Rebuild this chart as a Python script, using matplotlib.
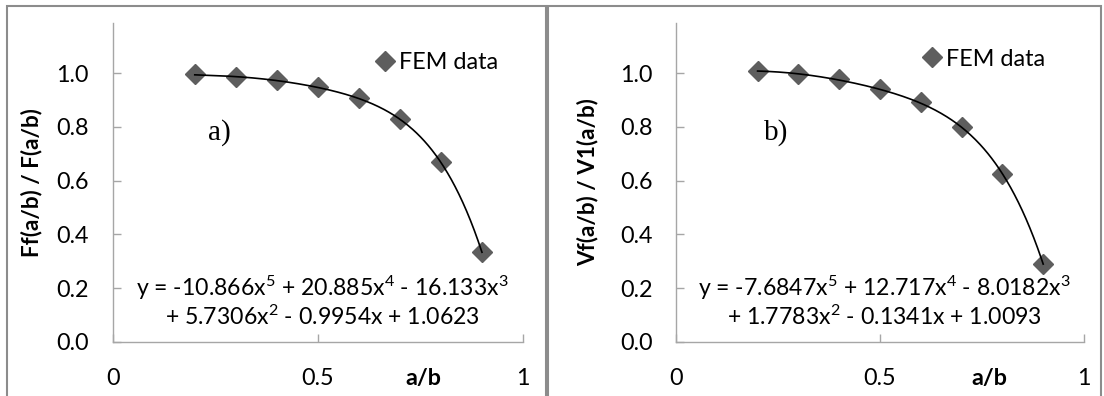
import matplotlib
matplotlib.use("Agg")
import matplotlib.pyplot as plt
import matplotlib.transforms as mtransforms
from matplotlib.patches import Rectangle
import numpy as np

plt.rcParams['font.family'] = ['Lato', 'DejaVu Sans']
plt.rcParams['mathtext.default'] = 'regular'

# a/b positions of the FEM runs
ab = [0.2, 0.3, 0.4, 0.5, 0.6, 0.7, 0.8, 0.9]
# normalised results read from the FEM runs
ff_ratio = [0.995, 0.986, 0.974, 0.949, 0.908, 0.83, 0.668, 0.335]
vf_ratio = [1.007, 0.996, 0.978, 0.941, 0.893, 0.798, 0.625, 0.29]

# 5th order trend line coefficients, highest power first
ff_coef = [-10.866, 20.885, -16.133, 5.7306, -0.9954, 1.0623]
vf_coef = [-7.6847, 12.717, -8.0182, 1.7783, -0.1341, 1.0093]

ff_eq = ["y = -10.866x$^{5}$ + 20.885x$^{4}$ - 16.133x$^{3}$",
         "+ 5.7306x$^{2}$ - 0.9954x + 1.0623"]
vf_eq = ["y = -7.6847x$^{5}$ + 12.717x$^{4}$ - 8.0182x$^{3}$",
         "+ 1.7783x$^{2}$ - 0.1341x + 1.0093"]

y_ticks = [0.0, 0.2, 0.4, 0.6, 0.8, 1.0]
x_ticks = [0, 0.5, 1]
x_tick_labels = ["0", "0.5", "1"]

MARKER_COL = '#5e5e5e'
AXIS_COL = '#a6a6a6'
FS = 16.8

fig = plt.figure(figsize=(11.04, 3.96), dpi=100)

# chart area frames
fig.patches.append(Rectangle((7 / 1104, -0.05), 539 / 1104, 1.05 - 5.5 / 396,
                             transform=fig.transFigure, fill=False,
                             ec='#8c8c8c', lw=1.5))
fig.patches.append(Rectangle((548 / 1104, -0.05), 553 / 1104, 1.05 - 5.5 / 396,
                             transform=fig.transFigure, fill=False,
                             ec='#8c8c8c', lw=1.5))


def draw_panel(rect, yvals, coef, eq, ylabel, tag, tag_x, ab_x, leg_anchor, ylab_x):
    ax = fig.add_axes(rect)
    ax.plot(ab, yvals, 'D', color=MARKER_COL, markersize=10.3, label='FEM data', zorder=3)
    xs = np.linspace(ab[0], ab[-1], 300)
    ax.plot(xs, np.polyval(coef, xs), color='black', lw=1.2, zorder=4)

    ax.set_xlim(0, 1)
    ax.set_ylim(0, 1.186)
    ax.set_yticks(y_ticks)
    ax.set_yticklabels(["%.1f" % v for v in y_ticks])
    ax.set_xticks(x_ticks)
    ax.set_xticklabels(x_tick_labels)
    ax.tick_params(direction='in', length=5.5, width=1, color=AXIS_COL,
                   labelsize=FS, labelcolor='black')
    ax.tick_params(axis='x', pad=19)
    ax.tick_params(axis='y', pad=17)
    for s in ['top', 'right']:
        ax.spines[s].set_visible(False)
    for s in ['left', 'bottom']:
        ax.spines[s].set_color(AXIS_COL)
        ax.spines[s].set_linewidth(1)
    ax.patch.set_visible(False)

    ax.set_ylabel(ylabel, fontsize=16.2, fontweight='bold', va='center')
    ax.yaxis.set_label_coords(ylab_x, 0.5)

    trans = mtransforms.blended_transform_factory(ax.transData, ax.transAxes)
    ax.text(ab_x, -0.113, 'a/b', transform=trans, fontsize=FS, fontweight='bold',
            ha='center', va='center')

    ax.text(tag_x, 0.777, tag, fontsize=21, family='Liberation Serif',
            ha='center', va='center')

    ax.text(0.51, 0.169, eq[0], transform=trans, fontsize=16.6, ha='center', va='center')
    ax.text(0.51, 0.078, eq[1], transform=trans, fontsize=16.6, ha='center', va='center')

    ax.legend(loc='center left', bbox_to_anchor=leg_anchor, frameon=False,
              fontsize=FS, borderpad=0, borderaxespad=0, handlelength=1.0,
              handletextpad=0.1, numpoints=1)
    return ax


draw_panel([112.7 / 1104, 54 / 396, 410.3 / 1104, 319 / 396],
           ff_ratio, ff_coef, ff_eq, 'Ff(a/b) / F(a/b)', 'a)', 0.26, 0.756,
           (0.635, 0.875), -0.197)
draw_panel([676 / 1104, 54 / 396, 408 / 1104, 319 / 396],
           vf_ratio, vf_coef, vf_eq, 'Vf(a/b) / V1(a/b)', 'b)', 0.245, 0.769,
           (0.598, 0.887), -0.216)

fig.savefig('out.png', dpi=100)
